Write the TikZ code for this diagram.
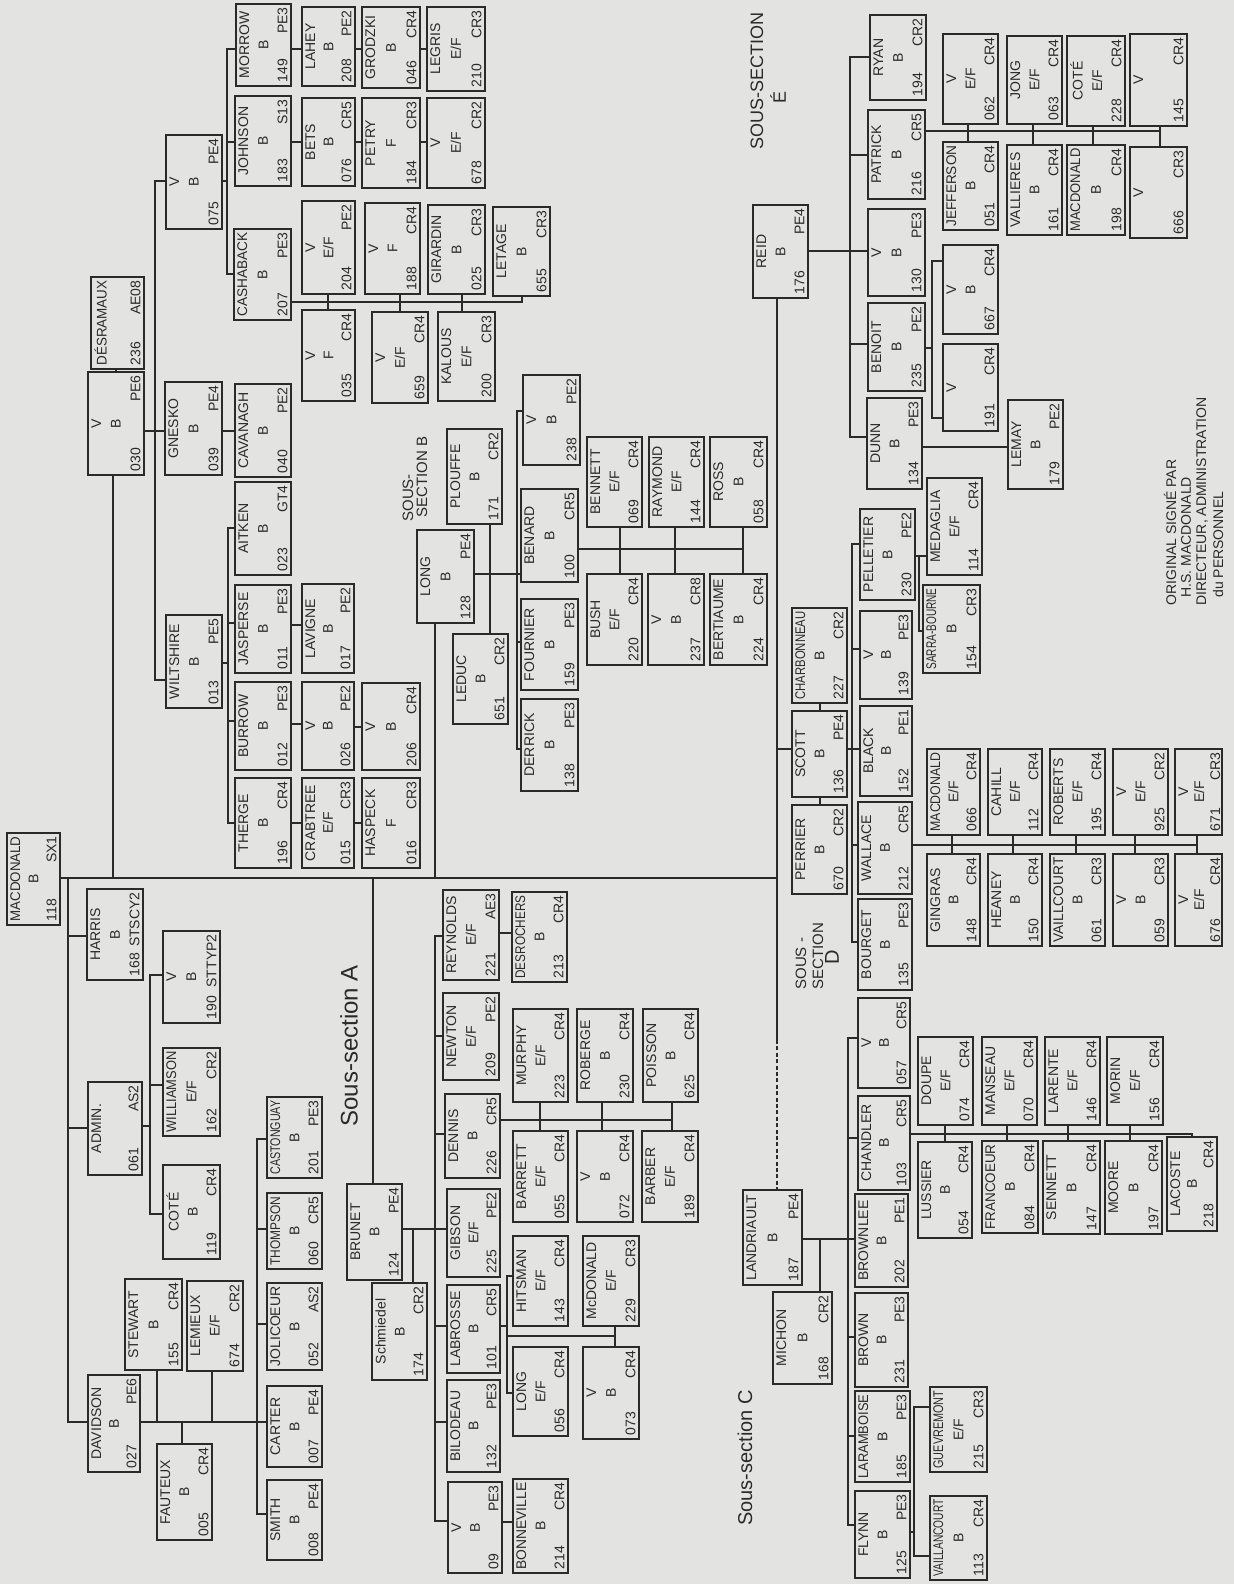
\documentclass[tikz,border=0pt]{standalone}
\usepackage{fontspec}
\setmainfont{Liberation Sans}
\usepackage{graphicx}
\definecolor{paper}{HTML}{E3E3E1}
\definecolor{ink}{HTML}{2A2A2A}
\tikzset{
  ln/.style={draw=ink, line width=0.9pt},
  box/.style={draw=ink, line width=0.9pt, rectangle, inner sep=0pt, text=ink, font=\fontsize{7}{8}\selectfont},
  lab/.style={rotate=90, anchor=west, text=ink, inner sep=0pt},
}
\newcommand\fitw[1]{\resizebox{\ifdim\width>\linewidth\linewidth\else\width\fi}{\height}{#1}}
% #1 name, #2 x1, #3 x2, #4 y1, #5 y2, #6 title, #7 middle, #8 number, #9 code
\newcommand\bx[9]{%
  \pgfmathsetmacro\bxw{(#3-#2)*0.5}%
  \pgfmathsetmacro\bxh{(#5-#4)*0.5}%
  \pgfmathsetmacro\bxpw{(#5-#4)*0.5-3.5}%
  \pgfmathsetmacro\bxph{(#3-#2)*0.5-3.5}%
  \pgfmathsetmacro\bxcx{(#2+#3)/2}%
  \pgfmathsetmacro\bxcy{(#4+#5)/2}%
  \node[box, minimum width=\bxw pt, minimum height=\bxh pt] (#1) at (\bxcx,\bxcy)
   {\rotatebox{90}{\parbox[c][\bxph pt][s]{\bxpw pt}{\centering\fitw{#6}\if\relax\detokenize{#7}\relax\else\par\vfill #7\fi\par\vfill\makebox[\linewidth]{#8\hfill #9}}}};%
}
\begin{document}
\begin{tikzpicture}[x=0.5pt,y=-0.5pt]
\fill[paper] (0,0) rectangle (1234,1584);
\useasboundingbox (0,0) rectangle (1234,1584);

% ---------- upper left block (under V 030)
\bx{morrow}{236}{291}{4}{86}{MORROW}{B}{149}{PE3}
\bx{lahey}{302}{355}{7}{86}{LAHEY}{B}{208}{PE2}
\bx{grodzki}{362}{420}{7}{88}{GRODZKI}{B}{046}{CR4}
\bx{legris}{427}{485}{7}{91}{LEGRIS}{E/F}{210}{CR3}
\bx{johnson}{235}{291}{96}{186}{JOHNSON}{B}{183}{S13}
\bx{bets}{302}{355}{98}{186}{BETS}{B}{076}{CR5}
\bx{petry}{362}{420}{98}{188}{PETRY}{F}{184}{CR3}
\bx{vsix78}{427}{485}{98}{188}{V}{E/F}{678}{CR2}
\bx{vo75}{166}{222}{135}{229}{V}{B}{075}{PE4}
\bx{cashaback}{234}{291}{229}{320}{CASHABACK}{B}{207}{PE3}
\bx{v204}{302}{355}{201}{294}{V}{E/F}{204}{PE2}
\bx{v188}{365}{420}{203}{294}{V}{F}{188}{CR4}
\bx{girardin}{428}{485}{205}{294}{GIRARDIN}{B}{025}{CR3}
\bx{letage}{493}{550}{207}{296}{LETAGE}{B}{655}{CR3}
\bx{v035}{302}{355}{310}{401}{V}{F}{035}{CR4}
\bx{v659}{372}{428}{312}{403}{V}{E/F}{659}{CR4}
\bx{kalous}{438}{495}{312}{401}{KALOUS}{E/F}{200}{CR3}
\bx{desramaux}{91}{144}{277}{369}{DÉSRAMAUX}{}{236}{AE08}
\bx{v030}{88}{144}{372}{475}{V}{B}{030}{PE6}
\bx{gnesko}{165}{222}{382}{475}{GNESKO}{B}{039}{PE4}
\bx{cavanagh}{235}{291}{384}{477}{CAVANAGH}{B}{040}{PE2}
\bx{aitken}{235}{291}{482}{575}{AITKEN}{B}{023}{GT4}
\bx{wiltshire}{166}{222}{615}{708}{WILTSHIRE}{B}{013}{PE5}
\bx{jasperse}{235}{291}{585}{673}{JASPERSE}{B}{011}{PE3}
\bx{lavigne}{302}{354}{584}{673}{LAVIGNE}{B}{017}{PE2}
\bx{burrow}{235}{291}{682}{770}{BURROW}{B}{012}{PE3}
\bx{v026}{302}{354}{682}{770}{V}{B}{026}{PE2}
\bx{v206}{362}{420}{683}{770}{V}{B}{206}{CR4}
\bx{therge}{235}{291}{778}{868}{THERGE}{B}{196}{CR4}
\bx{crabtree}{302}{354}{778}{868}{CRABTREE}{E/F}{015}{CR3}
\bx{haspeck}{362}{420}{778}{868}{HASPECK}{F}{016}{CR3}

% ---------- sous-section B
\bx{plouffe}{447}{502}{429}{524}{PLOUFFE}{B}{171}{CR2}
\bx{v238}{523}{580}{375}{465}{V}{B}{238}{PE2}
\bx{benard}{521}{578}{489}{582}{BENARD}{B}{100}{CR5}
\bx{bennett}{587}{642}{437}{527}{BENNETT}{E/F}{069}{CR4}
\bx{raymond}{649}{704}{437}{527}{RAYMOND}{E/F}{144}{CR4}
\bx{ross}{710}{767}{437}{527}{ROSS}{B}{058}{CR4}
\bx{long}{417}{474}{530}{623}{LONG}{B}{128}{PE4}
\bx{leduc}{453}{508}{634}{724}{LEDUC}{B}{651}{CR2}
\bx{fournier}{521}{578}{599}{690}{FOURNIER}{B}{159}{PE3}
\bx{derrick}{521}{578}{699}{791}{DERRICK}{B}{138}{PE3}
\bx{bush}{587}{642}{574}{665}{BUSH}{E/F}{220}{CR4}
\bx{v237}{648}{704}{574}{665}{V}{B}{237}{CR8}
\bx{bertiaume}{710}{767}{574}{665}{BERTIAUME}{B}{224}{CR4}

% ---------- sous-section E
\bx{reid}{753}{808}{205}{298}{REID}{B}{176}{PE4}
\bx{ryan}{870}{926}{15}{100}{RYAN}{B}{194}{CR2}
\bx{patrick}{868}{925}{110}{199}{PATRICK}{B}{216}{CR5}
\bx{v130}{868}{925}{209}{296}{V}{B}{130}{PE3}
\bx{benoit}{868}{925}{303}{391}{BENOIT}{B}{235}{PE2}
\bx{dunn}{867}{922}{398}{489}{DUNN}{B}{134}{PE3}
\bx{lemay}{1008}{1063}{400}{489}{LEMAY}{B}{179}{PE2}
\bx{v667}{943}{998}{245}{334}{V}{B}{667}{CR4}
\bx{v191}{943}{998}{344}{431}{V}{}{191}{CR4}
\bx{v062}{943}{998}{34}{124}{V}{E/F}{062}{CR4}
\bx{jefferson}{943}{998}{142}{230}{JEFFERSON}{B}{051}{CR4}
\bx{jong}{1007}{1062}{36}{124}{JONG}{E/F}{063}{CR4}
\bx{vallieres}{1007}{1062}{145}{235}{VALLIERES}{B}{161}{CR4}
\bx{cote}{1067}{1125}{36}{126}{COTÉ}{E/F}{228}{CR4}
\bx{macdonaldb}{1067}{1125}{145}{235}{MACDONALD}{B}{198}{CR4}
\bx{v145}{1130}{1187}{34}{126}{V}{}{145}{CR4}
\bx{v666}{1130}{1187}{147}{238}{V}{}{666}{CR3}

% ---------- sous-section D
\bx{charbonneau}{792}{847}{608}{703}{CHARBONNEAU}{B}{227}{CR2}
\bx{scott}{792}{847}{711}{797}{SCOTT}{B}{136}{PE4}
\bx{perrier}{792}{847}{805}{894}{PERRIER}{B}{670}{CR2}
\bx{pelletier}{860}{915}{509}{600}{PELLETIER}{B}{230}{PE2}
\bx{medaglia}{927}{982}{478}{575}{MEDAGLIA}{E/F}{114}{CR4}
\bx{sarra}{923}{980}{585}{673}{SARRA-BOURNE}{B}{154}{CR3}
\bx{v139}{860}{912}{611}{699}{V}{B}{139}{PE3}
\bx{black}{860}{912}{706}{796}{BLACK}{B}{152}{PE1}
\bx{wallace}{858}{912}{802}{894}{WALLACE}{B}{212}{CR5}
\bx{bourget}{858}{912}{899}{990}{BOURGET}{B}{135}{PE3}
\bx{macdonaldd}{927}{980}{749}{835}{MACDONALD}{E/F}{066}{CR4}
\bx{gingras}{927}{980}{854}{946}{GINGRAS}{B}{148}{CR4}
\bx{cahill}{988}{1042}{749}{835}{CAHILL}{E/F}{112}{CR4}
\bx{heaney}{988}{1042}{854}{946}{HEANEY}{B}{150}{CR4}
\bx{roberts}{1050}{1105}{749}{835}{ROBERTS}{E/F}{195}{CR4}
\bx{vaillcourt}{1050}{1105}{854}{946}{VAILLCOURT}{B}{061}{CR3}
\bx{v925}{1113}{1168}{749}{835}{V}{E/F}{925}{CR2}
\bx{v059}{1113}{1168}{854}{946}{V}{B}{059}{CR3}
\bx{v671}{1175}{1222}{749}{835}{V}{E/F}{671}{CR3}
\bx{v676}{1175}{1222}{854}{946}{V}{E/F}{676}{CR4}

% ---------- sous-section C
\bx{landriault}{743}{802}{1190}{1285}{LANDRIAULT}{B}{187}{PE4}
\bx{michon}{773}{832}{1292}{1384}{MICHON}{B}{168}{CR2}
\bx{v057}{858}{910}{998}{1088}{V}{B}{057}{CR5}
\bx{chandler}{858}{910}{1096}{1190}{CHANDLER}{B}{103}{CR5}
\bx{brownlee}{855}{908}{1194}{1287}{BROWNLEE}{B}{202}{PE1}
\bx{brown}{855}{908}{1293}{1387}{BROWN}{B}{231}{PE3}
\bx{laramboise}{855}{910}{1391}{1482}{LARAMBOISE}{B}{185}{PE3}
\bx{flynn}{855}{910}{1491}{1578}{FLYNN}{B}{125}{PE3}
\bx{guevremont}{930}{987}{1387}{1472}{GUEVREMONT}{E/F}{215}{CR3}
\bx{vaillancourt}{930}{987}{1496}{1580}{VAILLANCOURT}{B}{113}{CR4}
\bx{doupe}{918}{973}{1037}{1125}{DOUPE}{E/F}{074}{CR4}
\bx{manseau}{982}{1037}{1037}{1125}{MANSEAU}{E/F}{070}{CR4}
\bx{larente}{1045}{1100}{1037}{1125}{LARENTE}{E/F}{146}{CR4}
\bx{morin}{1107}{1163}{1037}{1125}{MORIN}{E/F}{156}{CR4}
\bx{lussier}{918}{972}{1142}{1238}{LUSSIER}{B}{054}{CR4}
\bx{francoeur}{982}{1038}{1141}{1233}{FRANCOEUR}{B}{084}{CR4}
\bx{sennett}{1043}{1100}{1141}{1234}{SENNETT}{B}{147}{CR4}
\bx{moore}{1105}{1162}{1141}{1234}{MOORE}{B}{197}{CR4}
\bx{lacoste}{1167}{1217}{1137}{1231}{LACOSTE}{B}{218}{CR4}

% ---------- sous-section A
\bx{brunet}{347}{402}{1184}{1280}{BRUNET}{B}{124}{PE4}
\bx{schmiedel}{372}{427}{1283}{1380}{Schmiedel}{B}{174}{CR2}
\bx{reynolds}{443}{499}{890}{980}{REYNOLDS}{E/F}{221}{AE3}
\bx{desrochers}{512}{567}{892}{982}{DESROCHERS}{B}{213}{CR4}
\bx{newton}{443}{499}{993}{1080}{NEWTON}{E/F}{209}{PE2}
\bx{murphy}{513}{568}{1009}{1102}{MURPHY}{E/F}{223}{CR4}
\bx{roberge}{577}{633}{1009}{1102}{ROBERGE}{B}{230}{CR4}
\bx{poisson}{643}{698}{1009}{1102}{POISSON}{B}{625}{CR4}
\bx{dennis}{445}{500}{1094}{1178}{DENNIS}{B}{226}{CR5}
\bx{barrett}{513}{568}{1131}{1222}{BARRETT}{E/F}{055}{CR4}
\bx{v072}{577}{633}{1131}{1222}{V}{B}{072}{CR4}
\bx{barber}{642}{698}{1131}{1222}{BARBER}{E/F}{189}{CR4}
\bx{gibson}{447}{500}{1189}{1277}{GIBSON}{E/F}{225}{PE2}
\bx{labrosse}{447}{500}{1285}{1373}{LABROSSE}{B}{101}{CR5}
\bx{bilodeau}{447}{500}{1380}{1472}{BILODEAU}{B}{132}{PE3}
\bx{v09}{448}{502}{1482}{1573}{V}{B}{09}{PE3}
\bx{bonneville}{513}{568}{1479}{1573}{BONNEVILLE}{B}{214}{CR4}
\bx{hitsman}{513}{568}{1236}{1326}{HITSMAN}{E/F}{143}{CR4}
\bx{longb}{513}{568}{1347}{1436}{LONG}{E/F}{056}{CR4}
\bx{mcdonald}{583}{639}{1236}{1326}{McDONALD}{E/F}{229}{CR3}
\bx{v073}{583}{639}{1347}{1439}{V}{B}{073}{CR4}

% ---------- left block
\bx{macdonald}{7}{60}{833}{925}{MACDONALD}{B}{118}{SX1}
\bx{harris}{87}{143}{889}{980}{HARRIS}{B}{168}{STSCY2}
\bx{v190}{163}{220}{931}{1023}{V}{B}{190}{STTYP2}
\bx{admin}{88}{142}{1082}{1175}{ADMIN.}{}{061}{AS2}
\bx{williamson}{163}{220}{1048}{1136}{WILLIAMSON}{E/F}{162}{CR2}
\bx{coteb}{163}{220}{1165}{1259}{COTÉ}{B}{119}{CR4}
\bx{stewart}{125}{182}{1279}{1370}{STEWART}{B}{155}{CR4}
\bx{lemieux}{187}{243}{1281}{1371}{LEMIEUX}{E/F}{674}{CR2}
\bx{davidson}{88}{140}{1375}{1472}{DAVIDSON}{B}{027}{PE6}
\bx{fauteux}{157}{212}{1444}{1540}{FAUTEUX}{B}{005}{CR4}
\bx{castonguay}{267}{322}{1097}{1178}{CASTONGUAY}{B}{201}{PE3}
\bx{thompson}{267}{322}{1193}{1269}{THOMPSON}{B}{060}{CR5}
\bx{jolicoeur}{267}{322}{1283}{1370}{JOLICOEUR}{B}{052}{AS2}
\bx{carter}{267}{322}{1386}{1467}{CARTER}{B}{007}{PE4}
\bx{smith}{267}{322}{1480}{1560}{SMITH}{B}{008}{PE4}

% ---------- labels
\node[lab, font=\fontsize{12}{14}\selectfont] (labA) at (349,1127) {Sous-section A};
\node[lab, font=\fontsize{10}{12}\selectfont] (labC) at (745,1526) {Sous-section C};
\node[lab, font=\fontsize{9}{10}\selectfont] (labE) at (757,150) {SOUS-SECTION};
\node[rotate=90, text=ink, inner sep=0pt, font=\fontsize{9}{10}\selectfont] (labE2) at (778,97) {É};
\node[lab, font=\fontsize{7.5}{8}\selectfont] (labB1) at (408,522) {SOUS-};
\node[lab, font=\fontsize{7.5}{8}\selectfont] (labB2) at (422,518) {SECTION B};
\node[lab, font=\fontsize{7.5}{8}\selectfont] (labD1) at (801,990) {SOUS -};
\node[lab, font=\fontsize{7.5}{8}\selectfont] (labD2) at (818,990) {SECTION};
\node[rotate=90, text=ink, inner sep=0pt, font=\fontsize{10}{12}\selectfont] (labD3) at (832,957) {D};
\node[lab, font=\fontsize{7}{8}\selectfont] (sig1) at (1170,606) {ORIGINAL SIGNÉ PAR};
\node[lab, font=\fontsize{7}{8}\selectfont] (sig2) at (1186,598) {H.S. MACDONALD};
\node[lab, font=\fontsize{7}{8}\selectfont] (sig3) at (1202,606) {DIRECTEUR, ADMINISTRATION};
\node[lab, font=\fontsize{7}{8}\selectfont] (sig4) at (1218,598) {du PERSONNEL};

% ---------- connectors: main trunk
\draw[ln] (macdonald.east |- 0,878) -- (777,878);
\draw[ln] (v030.south -| 113,0) -- (113,878);
\draw[ln] (desramaux.south -| 116,0) -- (v030.north -| 116,0);
\draw[ln] (v030.east |- 0,431) -- (gnesko.west |- 0,431);
\draw[ln] (gnesko.east |- 0,431) -- (cavanagh.west |- 0,431);
\draw[ln] (vo75.west |- 0,181) -| (155,680) -- (wiltshire.west |- 0,680);
\draw[ln] (vo75.east |- 0,181) -- (227,181);
\draw[ln] (morrow.west |- 0,49) -| (227,274) -- (cashaback.west |- 0,274);
\draw[ln] (227,142) -- (johnson.west |- 0,142);
\draw[ln] (morrow.east |- 0,49) -- (lahey.west |- 0,49);
\draw[ln] (lahey.east |- 0,49) -- (grodzki.west |- 0,49);
\draw[ln] (grodzki.east |- 0,49) -- (legris.west |- 0,49);
\draw[ln] (johnson.east |- 0,142) -- (bets.west |- 0,142);
\draw[ln] (bets.east |- 0,142) -- (petry.west |- 0,142);
\draw[ln] (petry.east |- 0,142) -- (vsix78.west |- 0,142);
\draw[ln] (cashaback.east |- 0,302) -- (522,302) -- (letage.south -| 522,0);
\draw[ln] (v204.south -| 328,0) -- (v035.north -| 328,0);
\draw[ln] (v188.south -| 400,0) -- (v659.north -| 400,0);
\draw[ln] (girardin.south -| 462,0) -- (kalous.north -| 462,0);
\draw[ln] (wiltshire.east |- 0,663) -- (228,663);
\draw[ln] (aitken.west |- 0,528) -| (228,823) -- (therge.west |- 0,823);
\draw[ln] (228,623) -- (jasperse.west |- 0,623);
\draw[ln] (228,721) -- (burrow.west |- 0,721);
\draw[ln] (jasperse.east |- 0,625) -- (lavigne.west |- 0,625);
\draw[ln] (burrow.east |- 0,724) -- (v026.west |- 0,724);
\draw[ln] (v026.east |- 0,727) -- (v206.west |- 0,727);
\draw[ln] (therge.east |- 0,823) -- (crabtree.west |- 0,823);
\draw[ln] (crabtree.east |- 0,823) -- (haspeck.west |- 0,823);

% ---------- sous-section B connectors
\draw[ln] (long.south -| 435,0) -- (435,878);
\draw[ln] (plouffe.south -| 490,0) -- (leduc.north -| 490,0);
\draw[ln] (long.east |- 0,574) -- (benard.west |- 0,574);
\draw[ln] (v238.west |- 0,411) -| (517,749) -- (derrick.west |- 0,749);
\draw[ln] (517,642) -- (fournier.west |- 0,642);
\draw[ln] (benard.east |- 0,549) -- (743,549);
\draw[ln] (bennett.south -| 620,0) -- (bush.north -| 620,0);
\draw[ln] (raymond.south -| 675,0) -- (v237.north -| 675,0);
\draw[ln] (ross.south -| 743,0) -- (bertiaume.north -| 743,0);

% ---------- REID / sous-sections E, D
\draw[ln] (reid.south -| 777,0) -- (777,1040);
\draw[ln, line width=0.7pt, dash pattern=on 2pt off 1.2pt] (777,1040) -- (landriault.north -| 777,0);
\draw[ln] (reid.east |- 0,251) -- (v130.west |- 0,251);
\draw[ln] (ryan.west |- 0,57) -| (850,437) -- (dunn.west |- 0,437);
\draw[ln] (850,155) -- (patrick.west |- 0,155);
\draw[ln] (850,344) -- (benoit.west |- 0,344);
\draw[ln] (benoit.east |- 0,348) -- (932,348);
\draw[ln] (v667.west |- 0,261) -| (932,418) -- (v191.west |- 0,418);
\draw[ln] (dunn.east |- 0,447) -- (lemay.west |- 0,447);
\draw[ln] (patrick.east |- 0,131) -- (1160,131);
\draw[ln] (v062.south -| 968,0) -- (jefferson.north -| 968,0);
\draw[ln] (jong.south -| 1033,0) -- (vallieres.north -| 1033,0);
\draw[ln] (cote.south -| 1093,0) -- (macdonaldb.north -| 1093,0);
\draw[ln] (v145.south -| 1160,0) -- (v666.north -| 1160,0);

\draw[ln] (777,749) -- (scott.west |- 0,749);
\draw[ln] (scott.east |- 0,749) -- (black.west |- 0,749);
\draw[ln] (charbonneau.south -| 820,0) -- (scott.north -| 820,0);
\draw[ln] (scott.south -| 820,0) -- (perrier.north -| 820,0);
\draw[ln] (pelletier.west |- 0,544) -| (852,942) -- (bourget.west |- 0,942);
\draw[ln] (852,649) -- (v139.west |- 0,649);
\draw[ln] (852,845) -- (wallace.west |- 0,845);
\draw[ln] (wallace.east |- 0,845) -- (1197,845);
\draw[ln] (macdonaldd.south -| 952,0) -- (gingras.north -| 952,0);
\draw[ln] (cahill.south -| 1013,0) -- (heaney.north -| 1013,0);
\draw[ln] (roberts.south -| 1076,0) -- (vaillcourt.north -| 1076,0);
\draw[ln] (v925.south -| 1135,0) -- (v059.north -| 1135,0);
\draw[ln] (v671.south -| 1197,0) -- (v676.north -| 1197,0);
\draw[ln] (pelletier.east |- 0,556) -- (medaglia.west |- 0,556);
\draw[ln] (919,556) -- (919,631) -- (sarra.west |- 0,631);

% ---------- sous-section C
\draw[ln] (landriault.east |- 0,1239) -- (brownlee.west |- 0,1239);
\draw[ln] (v057.west |- 0,1038) -| (848,1525) -- (flynn.west |- 0,1525);
\draw[ln] (848,1138) -- (chandler.west |- 0,1138);
\draw[ln] (848,1337) -- (brown.west |- 0,1337);
\draw[ln] (848,1436) -- (laramboise.west |- 0,1436);
\draw[ln] (820,1239) -- (michon.north -| 820,0);
\draw[ln] (flynn.east |- 0,1532) -- (914,1532);
\draw[ln] (guevremont.west |- 0,1407) -| (914,1556) -- (vaillancourt.west |- 0,1556);
\draw[ln] (chandler.east |- 0,1134) -- (1192,1134) -- (lacoste.north -| 1192,0);
\draw[ln] (doupe.south -| 945,0) -- (lussier.north -| 945,0);
\draw[ln] (manseau.south -| 1007,0) -- (francoeur.north -| 1007,0);
\draw[ln] (larente.south -| 1068,0) -- (sennett.north -| 1068,0);
\draw[ln] (morin.south -| 1130,0) -- (moore.north -| 1130,0);

% ---------- sous-section A
\draw[ln] (373,878) -- (brunet.north -| 373,0);
\draw[ln] (brunet.east |- 0,1229) -- (gibson.west |- 0,1229);
\draw[ln] (413,1229) -- (schmiedel.north -| 413,0);
\draw[ln] (reynolds.west |- 0,936) -| (435,1521) -- (v09.west |- 0,1521);
\draw[ln] (435,1036) -- (newton.west |- 0,1036);
\draw[ln] (435,1134) -- (dennis.west |- 0,1134);
\draw[ln] (435,1326) -- (labrosse.west |- 0,1326);
\draw[ln] (435,1422) -- (bilodeau.west |- 0,1422);
\draw[ln] (reynolds.east |- 0,933) -- (desrochers.west |- 0,933);
\draw[ln] (v09.east |- 0,1522) -- (bonneville.west |- 0,1522);
\draw[ln] (dennis.east |- 0,1120) -- (672,1120);
\draw[ln] (murphy.south -| 540,0) -- (barrett.north -| 540,0);
\draw[ln] (roberge.south -| 602,0) -- (v072.north -| 602,0);
\draw[ln] (poisson.south -| 672,0) -- (barber.north -| 672,0);
\draw[ln] (labrosse.east |- 0,1326) -- (507,1326);
\draw[ln] (hitsman.west |- 0,1276) -| (507,1393) -- (longb.west |- 0,1393);
\draw[ln] (507,1336) -- (615,1336);
\draw[ln] (mcdonald.south -| 615,0) -- (v073.north -| 615,0);

% ---------- left block
\draw[ln] (68,878) -- (68,1422) -- (davidson.west |- 0,1422);
\draw[ln] (68,936) -- (harris.west |- 0,936);
\draw[ln] (68,1128) -- (admin.west |- 0,1128);
\draw[ln] (admin.east |- 0,1126) -- (150,1126);
\draw[ln] (v190.west |- 0,975) -| (150,1214) -- (coteb.west |- 0,1214);
\draw[ln] (150,1085) -- (williamson.west |- 0,1085);
\draw[ln] (davidson.east |- 0,1422) -- (257,1422) -- (carter.west |- 0,1422);
\draw[ln] (stewart.south -| 157,0) -- (157,1422);
\draw[ln] (182,1422) -- (fauteux.north -| 182,0);
\draw[ln] (lemieux.south -| 212,0) -- (212,1422);
\draw[ln] (castonguay.west |- 0,1139) -| (257,1514) -- (smith.west |- 0,1514);
\draw[ln] (257,1229) -- (thompson.west |- 0,1229);
\draw[ln] (257,1324) -- (jolicoeur.west |- 0,1324);
\end{tikzpicture}
\end{document}
